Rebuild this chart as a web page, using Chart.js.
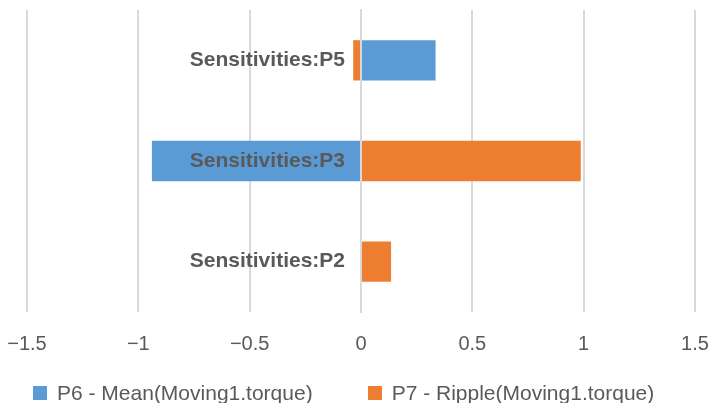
<!DOCTYPE html>
<html>
<head>
<meta charset="utf-8">
<title>Sensitivities</title>
<script src="https://cdn.jsdelivr.net/npm/chart.js@4/dist/chart.umd.min.js"></script>
<style>
    html, body { margin: 0; padding: 0; background: #fff; }
    #wrap { position: relative; width: 710px; height: 403px; }
    #legend {
        position: absolute;
        left: 0;
        top: 383px;
        width: 710px;
        height: 20px;
        display: flex;
        gap: 55px;
        padding-left: 33px;
        box-sizing: border-box;
        font-family: 'Liberation Sans', Arial, sans-serif;
        font-size: 21px;
        line-height: 20px;
        color: #595959;
        white-space: nowrap;
    }
    #legend .item { display: flex; align-items: center; }
    #legend .swatch { width: 14px; height: 14px; margin-right: 10px; }
</style>
</head>
<body>
<div id="wrap">
    <canvas id="sensChart"></canvas>
    <div id="legend"></div>
</div>
<script>
const categories = ['Sensitivities:P5', 'Sensitivities:P3', 'Sensitivities:P2'];
const meanTorque = [0.335, -0.939, 0];
const rippleTorque = [-0.035, 0.987, 0.135];
const seriesNames = ['P6 - Mean(Moving1.torque)', 'P7 - Ripple(Moving1.torque)'];
const seriesColors = ['#5b9bd5', '#ed7d31'];
const axisMin = -1.5;
const axisMax = 1.5;
const axisStep = 0.5;

const textColor = '#595959';
const gridColor = '#d9d9d9';
const fontFamily = "'Liberation Sans', Arial, sans-serif";

// Category names sit just left of the zero line, on top of the bars
const zeroLineLabels = {
    id: 'zeroLineLabels',
    afterDatasetsDraw(chart) {
        const { ctx, scales: { x, y } } = chart;
        const right = x.getPixelForValue(0) - 16;
        ctx.save();
        ctx.font = 'bold 21px ' + fontFamily;
        ctx.fillStyle = textColor;
        ctx.textAlign = 'right';
        ctx.textBaseline = 'middle';
        chart.data.labels.forEach((label, i) => {
            ctx.fillText(label, right, y.getPixelForTick(i));
        });
        ctx.restore();
    },
};

const ctx = document.getElementById('sensChart').getContext('2d');

const sensChart = new Chart(ctx, {
    type: 'bar',
    data: {
        labels: categories,
        datasets: [{
            label: seriesNames[0],
            data: meanTorque,
            backgroundColor: seriesColors[0],
            borderWidth: 0,
        }, {
            label: seriesNames[1],
            data: rippleTorque,
            backgroundColor: seriesColors[1],
            borderWidth: 0,
        }],
    },
    options: {
        indexAxis: 'y',
        responsive: true,
        maintainAspectRatio: false,
        animation: false,
        categoryPercentage: 0.5,
        barPercentage: 0.8,
        layout: {
            padding: { top: 10, left: 27, right: 15, bottom: 27 },
        },
        plugins: {
            legend: { display: false },
            tooltip: { enabled: false },
        },
        scales: {
            x: {
                stacked: true,
                min: axisMin,
                max: axisMax,
                grid: {
                    color: gridColor,
                    lineWidth: 2,
                    drawTicks: false,
                },
                border: { display: false },
                ticks: {
                    stepSize: axisStep,
                    padding: 20,
                    color: textColor,
                    font: { family: fontFamily, size: 20 },
                    // Excel-style minus sign on negative ticks
                    callback: value => (value < 0 ? '\u2212' + Math.abs(value) : String(value)),
                },
                afterFit: scale => {
                    scale.paddingLeft = 0;
                    scale.paddingRight = 0;
                },
            },
            y: {
                stacked: true,
                position: { x: 0 },
                z: 1,
                grid: { display: false, drawTicks: false },
                border: { display: true, color: gridColor, width: 2 },
                ticks: { display: false },
                afterFit: scale => {
                    scale.paddingTop = 0;
                    scale.paddingBottom = 0;
                },
            },
        },
    },
    plugins: [zeroLineLabels],
});

// Legend underneath, built from the chart's datasets
const legendEl = document.getElementById('legend');
sensChart.data.datasets.forEach(ds => {
    const item = document.createElement('div');
    item.className = 'item';
    const swatch = document.createElement('span');
    swatch.className = 'swatch';
    swatch.style.background = ds.backgroundColor;
    const text = document.createElement('span');
    text.textContent = ds.label;
    item.appendChild(swatch);
    item.appendChild(text);
    legendEl.appendChild(item);
});
</script>
</body>
</html>
